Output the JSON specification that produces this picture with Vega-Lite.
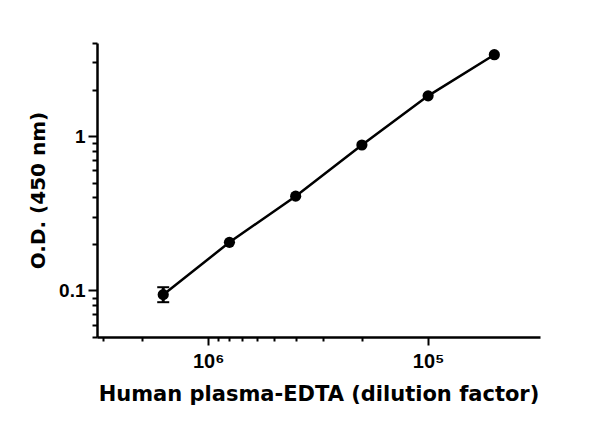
{
  "$schema": "https://vega.github.io/schema/vega-lite/v6.json",
  "description": "Human plasma-EDTA dilution curve, O.D. at 450 nm",
  "width": 443,
  "height": 294,
  "autosize": {"type": "none"},
  "padding": {"left": 97, "top": 43, "right": 60, "bottom": 90},
  "background": "white",
  "data": {
    "values": [
      {"dilution": 1600000, "od": 0.094, "lo": 0.084, "hi": 0.105},
      {"dilution": 800000, "od": 0.205},
      {"dilution": 400000, "od": 0.408},
      {"dilution": 200000, "od": 0.875},
      {"dilution": 100000, "od": 1.82},
      {"dilution": 50000, "od": 3.36}
    ]
  },
  "encoding": {
    "x": {
      "field": "dilution",
      "type": "quantitative",
      "scale": {"type": "log", "domain": [31000, 3200000], "reverse": true, "nice": false},
      "axis": {
        "title": "Human plasma-EDTA (dilution factor)",
        "titleFont": "DejaVu Sans",
        "titleFontWeight": "bold",
        "titleFontSize": 21,
        "titleColor": "black",
        "titlePadding": 12,
        "values": [3000000, 2000000, 1000000, 900000, 800000, 700000, 600000, 500000, 400000, 300000, 200000, 100000],
        "labelExpr": "datum.value == 1000000 ? '10⁶' : datum.value == 100000 ? '10⁵' : ''",
        "labelFont": "Liberation Sans",
        "labelFontWeight": "bold",
        "labelFontSize": 20,
        "labelColor": "black",
        "labelPadding": 6,
        "labelOverlap": false,
        "labelFlush": false,
        "tickSize": {"condition": {"test": "datum.value == 1000000 || datum.value == 100000", "value": 8}, "value": 4}
      }
    },
    "y": {
      "field": "od",
      "type": "quantitative",
      "scale": {"type": "log", "domain": [0.05, 4], "nice": false},
      "axis": {
        "title": "O.D. (450 nm)",
        "titleFont": "DejaVu Sans",
        "titleFontWeight": "bold",
        "titleFontSize": 20,
        "titleColor": "black",
        "titlePadding": 10,
        "values": [0.05, 0.06, 0.07, 0.08, 0.09, 0.1, 0.2, 0.3, 0.4, 0.5, 0.6, 0.7, 0.8, 0.9, 1, 2, 3, 4],
        "labelExpr": "datum.value == 1 ? '1' : datum.value == 0.1 ? '0.1' : ''",
        "labelFont": "Liberation Sans",
        "labelFontWeight": "bold",
        "labelFontSize": 19,
        "labelColor": "black",
        "labelPadding": 3,
        "labelOverlap": false,
        "labelFlush": false,
        "tickSize": {"condition": {"test": "datum.value == 1 || datum.value == 0.1", "value": 9}, "value": 5}
      }
    }
  },
  "layer": [
    {
      "mark": {"type": "line", "color": "black", "strokeWidth": 2.5}
    },
    {
      "mark": {"type": "point", "filled": true, "color": "black", "opacity": 1, "size": 125}
    },
    {
      "transform": [{"filter": "isValid(datum.lo)"}],
      "mark": {"type": "rule", "color": "black", "strokeWidth": 3},
      "encoding": {
        "y": {"field": "lo", "type": "quantitative"},
        "y2": {"field": "hi"}
      }
    },
    {
      "transform": [{"filter": "isValid(datum.lo)"}],
      "mark": {"type": "tick", "orient": "horizontal", "color": "black", "size": 12, "thickness": 2, "opacity": 1},
      "encoding": {"y": {"field": "lo", "type": "quantitative"}}
    },
    {
      "transform": [{"filter": "isValid(datum.hi)"}],
      "mark": {"type": "tick", "orient": "horizontal", "color": "black", "size": 12, "thickness": 2, "opacity": 1},
      "encoding": {"y": {"field": "hi", "type": "quantitative"}}
    }
  ],
  "config": {
    "view": {"stroke": null},
    "axis": {
      "grid": false,
      "domainColor": "black",
      "domainWidth": 2.5,
      "tickColor": "black",
      "tickWidth": 2
    }
  }
}
